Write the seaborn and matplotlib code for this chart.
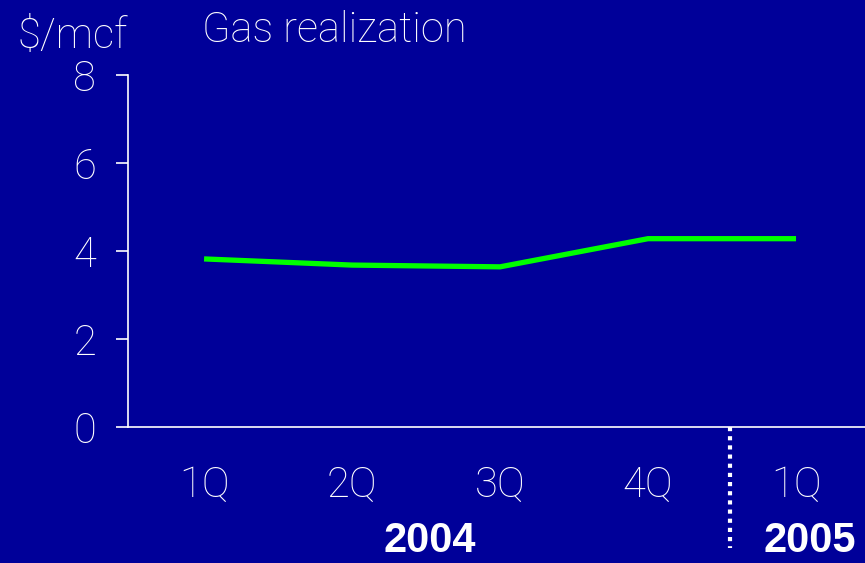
import matplotlib
matplotlib.use("Agg")
import matplotlib.pyplot as plt
import seaborn as sns
import pandas as pd

quarters = ["1Q", "2Q", "3Q", "4Q", "1Q"]
years = ["2004", "2005"]
gas_realization = [3.82, 3.68, 3.64, 4.28, 4.28]
y_ticks = [0, 2, 4, 6, 8]

bg = "#000099"
sns.set_style("white")
plt.rcParams["font.family"] = ["Roboto", "DejaVu Sans"]

df = pd.DataFrame({"pos": range(len(quarters)), "value": gas_realization})

fig = plt.figure(figsize=(8.65, 5.63), dpi=100, facecolor=bg)
ax = fig.add_axes([128/865, 1-427/563, 1-128/865, (427-75)/563])
ax.set_facecolor(bg)

sns.lineplot(data=df, x="pos", y="value", ax=ax, color="#00ff00", linewidth=3.8,
             solid_capstyle="butt")

ax.set_xlim(-0.514, 4.466)
ax.set_ylim(0, 8)
ax.set_yticks(y_ticks)
ax.set_yticklabels([str(t) for t in y_ticks], fontsize=30, color="white", fontweight="light")
ax.set_xticks(range(len(quarters)))
ax.set_xticklabels(quarters, fontsize=30, color="white", fontweight="light")
ax.tick_params(axis="y", direction="out", length=9, width=1.2, color="white", pad=14, left=True)
ax.tick_params(axis="x", length=0, pad=27)
ax.set_xlabel("")
ax.set_ylabel("")
for s in ["top", "right"]:
    ax.spines[s].set_visible(False)
for s in ["left", "bottom"]:
    ax.spines[s].set_color("white")
    ax.spines[s].set_linewidth(1.2)

# separator between years
ax.plot([3.554, 3.554], [0, -2.75], color="white", linestyle=(0, (1.0, 1.2)),
        linewidth=3, clip_on=False)

# year labels
ax.text(1.527, -2.6, years[0], ha="center", va="center", fontsize=30, color="white",
        fontweight="bold", family=["Liberation Sans", "DejaVu Sans"], clip_on=False)
ax.text(4.09, -2.6, years[1], ha="center", va="center", fontsize=30, color="white",
        fontweight="bold", family=["Liberation Sans", "DejaVu Sans"], clip_on=False)

fig.text(17/865, 1-37/563, "$/mcf", ha="left", va="center", fontsize=30, color="white",
         fontweight="light")
fig.text(202/865, 1-31/563, "Gas realization", ha="left", va="center", fontsize=30,
         color="white", fontweight="light")

fig.savefig("out.png", dpi=100, facecolor=bg)
